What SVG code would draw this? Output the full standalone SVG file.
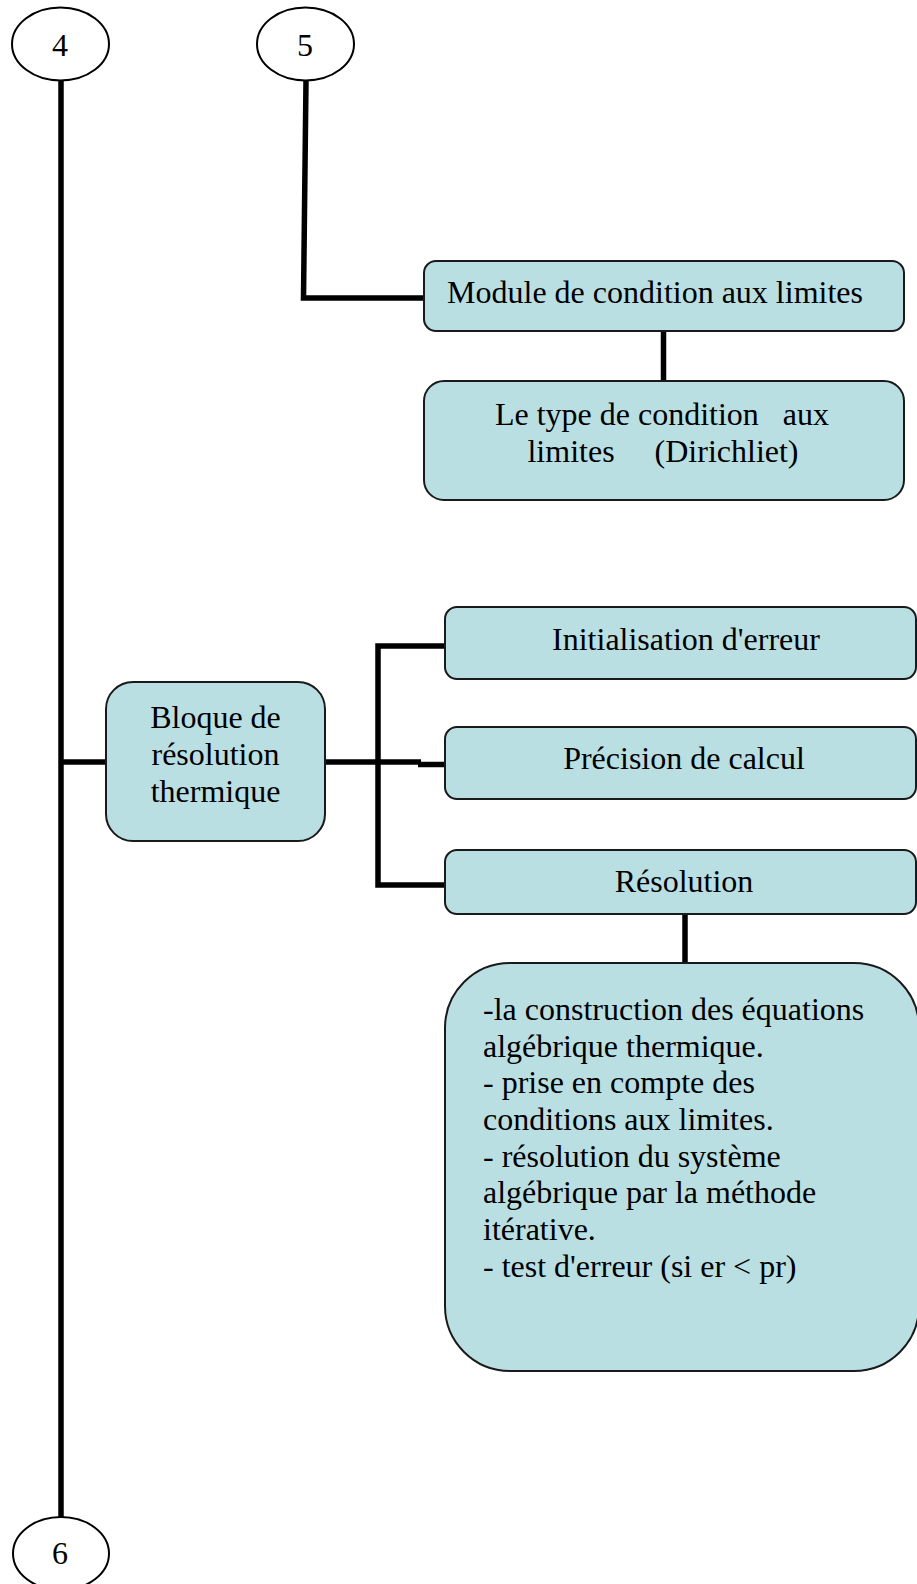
<svg xmlns="http://www.w3.org/2000/svg" width="917" height="1584" viewBox="0 0 917 1584">
  <style>
    .node { fill: #BADFE3; stroke: #1a1a1a; stroke-width: 2; }
    .term { fill: #ffffff; stroke: #000000; stroke-width: 2; }
    .link { fill: none; stroke: #000000; stroke-width: 5.5; stroke-linejoin: miter; stroke-linecap: butt; }
    text { font-family: "Liberation Serif", "Times New Roman", serif; font-size: 32px; fill: #000000; }
    .c { text-anchor: middle; }
  </style>
  <rect width="917" height="1584" fill="#ffffff"/>

  <!-- connectors -->
  <g id="connectors">
    <path class="link" d="M61 80 V1520"/>
    <path class="link" d="M306 81 L303.5 298 H424"/>
    <path class="link" d="M663.5 331 V381"/>
    <path class="link" d="M61 762 H106"/>
    <path class="link" d="M325 762 H421"/>
    <path class="link" d="M418 764.5 H445"/>
    <path class="link" d="M445 646 H378 V885 H445"/>
    <path class="link" d="M685 914 V963"/>
  </g>

  <!-- off-page connectors -->
  <g id="ref4">
    <ellipse class="term" cx="60.5" cy="44" rx="48.5" ry="36.5"/>
    <text class="c" x="60" y="56">4</text>
  </g>
  <g id="ref5">
    <ellipse class="term" cx="305.5" cy="44" rx="48.5" ry="36.5"/>
    <text class="c" x="305" y="56">5</text>
  </g>
  <g id="ref6">
    <ellipse class="term" cx="61" cy="1553.5" rx="48" ry="36.5"/>
    <text class="c" x="60" y="1564">6</text>
  </g>

  <!-- boundary condition module -->
  <g id="module-cl">
    <rect class="node" x="424" y="261" width="480" height="70" rx="12"/>
    <text class="c" x="655" y="303">Module de condition aux limites</text>
  </g>
  <g id="type-cl">
    <rect class="node" x="424" y="381" width="480" height="119" rx="20"/>
    <text class="c" x="662" y="425" xml:space="preserve">Le type de condition   aux</text>
    <text class="c" x="663" y="462" xml:space="preserve">limites     (Dirichliet)</text>
  </g>

  <!-- thermal solver block -->
  <g id="bloque">
    <rect class="node" x="106" y="682" width="219" height="159" rx="27"/>
    <text class="c" x="215.5" y="728">Bloque de</text>
    <text class="c" x="215.5" y="765">résolution</text>
    <text class="c" x="215.5" y="802">thermique</text>
  </g>
  <g id="init-erreur">
    <rect class="node" x="445" y="607" width="471" height="72" rx="12"/>
    <text class="c" x="686" y="650">Initialisation d'erreur</text>
  </g>
  <g id="precision">
    <rect class="node" x="445" y="727" width="471" height="72" rx="12"/>
    <text class="c" x="684" y="769">Précision de calcul</text>
  </g>
  <g id="resolution">
    <rect class="node" x="445" y="850" width="471" height="64" rx="12"/>
    <text class="c" x="684" y="892">Résolution</text>
  </g>
  <g id="etapes">
    <rect class="node" x="445" y="963" width="474" height="408" rx="65"/>
    <text x="483" y="1020">-la construction des équations</text>
    <text x="483" y="1057">algébrique thermique.</text>
    <text x="483" y="1093">- prise en compte des</text>
    <text x="483" y="1130">conditions aux limites.</text>
    <text x="483" y="1167">- résolution du système</text>
    <text x="483" y="1203">algébrique par la méthode</text>
    <text x="483" y="1240">itérative.</text>
    <text x="483" y="1277">- test d'erreur (si er &lt; pr)</text>
  </g>
</svg>
